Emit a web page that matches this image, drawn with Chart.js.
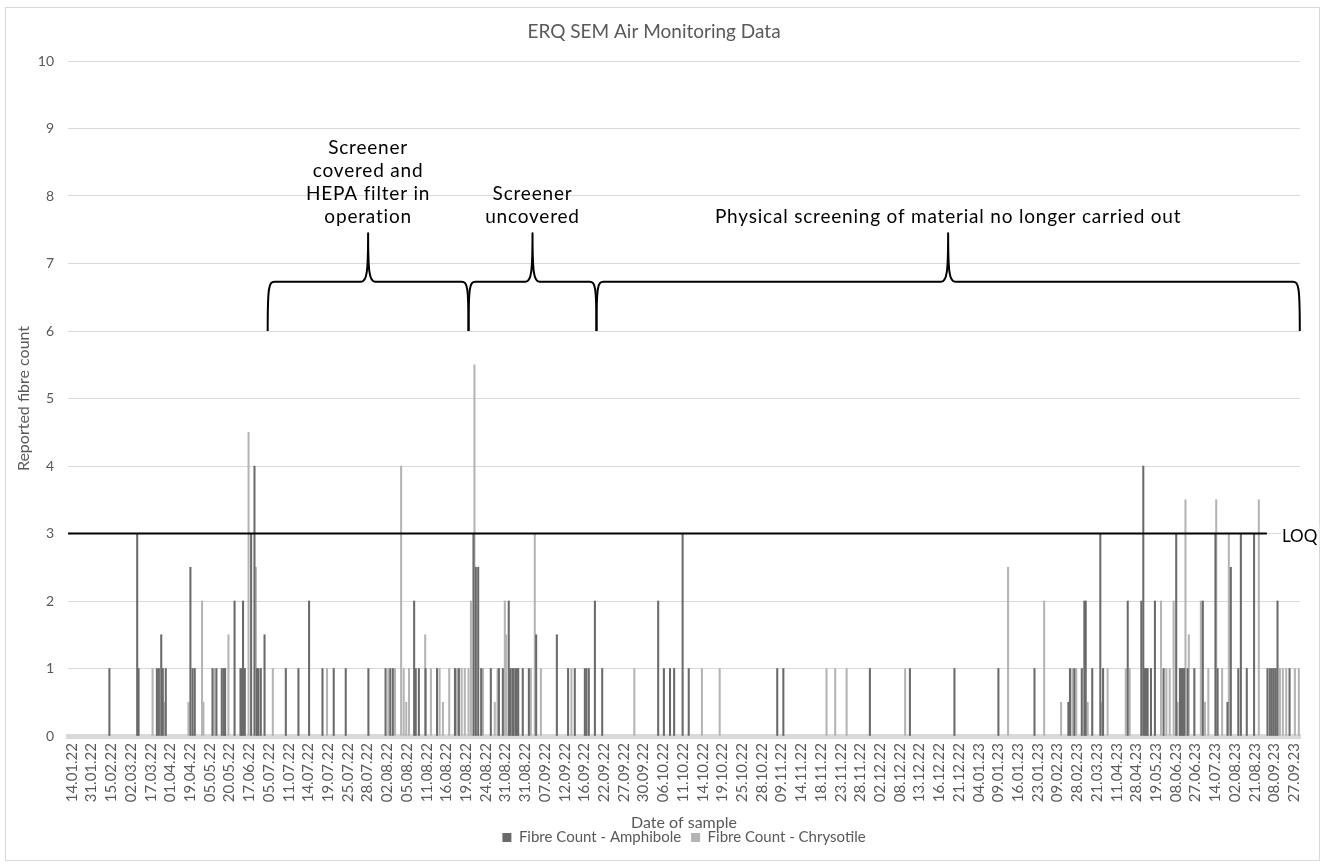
<!DOCTYPE html>
<html><head><meta charset="utf-8">
<script src="https://cdn.jsdelivr.net/npm/chart.js@4.4.1/dist/chart.umd.min.js"></script>
<style>html,body{margin:0;padding:0;background:#fff;}#wrap{position:relative;width:1335px;height:864px;}</style>
</head><body><div id="wrap"><canvas id="c"></canvas></div>
<script>
const tickLabels = ["14.01.22","31.01.22","15.02.22","02.03.22","17.03.22","01.04.22","19.04.22","05.05.22","20.05.22","17.06.22","05.07.22","11.07.22","14.07.22","19.07.22","25.07.22","28.07.22","02.08.22","05.08.22","11.08.22","16.08.22","19.08.22","24.08.22","31.08.22","31.08.22","07.09.22","12.09.22","16.09.22","22.09.22","27.09.22","30.09.22","06.10.22","11.10.22","14.10.22","19.10.22","25.10.22","28.10.22","09.11.22","14.11.22","18.11.22","23.11.22","28.11.22","02.12.22","08.12.22","13.12.22","16.12.22","21.12.22","04.01.23","09.01.23","16.01.23","23.01.23","09.02.23","28.02.23","21.03.23","11.04.23","28.04.23","19.05.23","08.06.23","27.06.23","14.07.23","02.08.23","21.08.23","08.09.23","27.09.23"];

// sample positions along the date axis (in label intervals) and fibre counts
const amphPos = [1.90,3.31,3.38,4.31,4.41,4.53,4.61,4.76,6.01,6.12,6.23,7.13,7.33,7.60,7.70,7.77,8.25,8.55,8.62,8.68,8.77,9.09,9.26,9.39,9.46,9.58,9.77,10.85,11.49,12.03,12.71,13.28,13.89,15.04,15.91,16.15,16.28,17.36,17.44,17.60,17.94,18.52,19.43,19.63,20.37,20.49,20.61,20.76,21.25,21.66,21.86,22.16,22.23,22.34,22.40,22.50,22.57,22.64,22.87,23.18,23.55,24.60,25.17,25.51,26.02,26.10,26.22,26.53,26.90,29.74,30.03,30.34,30.55,30.98,31.29,35.78,36.09,40.48,42.51,44.77,47.00,48.83,50.55,50.63,50.85,51.23,51.36,51.43,51.76,52.17,52.31,53.56,54.25,54.35,54.43,54.50,54.57,54.74,54.94,55.38,56.02,56.21,56.29,56.36,56.43,56.60,56.94,57.37,58.01,58.12,58.62,58.79,59.17,59.30,59.60,59.97,60.65,60.77,60.87,60.97,61.07,61.16,61.77];
const amphCount = [1,3,1,1,1,1.5,1,1,2.5,1,1,1,1,1,1,1,2,1,1,2,1,3,4,1,1,1,1.5,1,1,2,1,1,1,1,1,1,1,2,1,1,1,1,1,1,3,2.5,2.5,1,1,1,1,2,1,1,1,1,1,1,1,1,1.5,1.5,1,1,1,1,1,2,1,2,1,1,1,3,1,1,1,1,1,1,1,1,0.5,1,1,1,2,2,1,3,1,2,2,4,1,1,1,1,2,1,3,1,1,1,1,1,1,2,3,1,0.5,2.5,1,3,1,3,1,1,1,1,1,2,1];

const chrysPos = [4.09,4.70,5.91,6.60,6.67,7.23,7.94,8.96,9.33,10.19,12.94,16.05,16.39,16.70,16.83,16.96,17.10,17.92,18.21,18.65,18.82,19.14,19.53,19.77,19.93,20.12,20.24,20.42,20.85,21.45,21.59,21.96,22.03,23.28,23.48,23.79,25.34,28.53,31.96,32.86,38.28,38.72,39.30,42.27,47.49,49.32,50.18,50.75,50.95,51.53,52.24,52.54,53.46,53.66,55.25,55.52,55.69,55.89,56.09,56.49,56.66,57.27,57.48,57.65,58.05,58.35,58.69,60.21,61.28,61.43,61.60,62.04,62.24];
const chrysCount = [1,0.5,0.5,2,0.5,1,1.5,4.5,2.5,1,1,1,1,4,1,0.5,1,1.5,1,1,0.5,1,1,1,1,1,2,5.5,1,0.5,1,2,1.5,1,3,1,1,1,1,1,1,1,1,1,2.5,2,0.5,1,1,0.5,0.5,1,1,1,2,1,1,2,0.5,3.5,1.5,2,0.5,1,3.5,1,3,3.5,1,1,1,1,1];

const LOQ = 3;
const loqSpan = [-0.2, 60.62];
const periodStart = [9.93, 20.12, 26.61];
const periodEnd = [20.12, 26.61, 62.29];
const periodText = [["Screener","covered and","HEPA filter in","operation"],["Screener","uncovered"],["Physical screening of material no longer carried out"]];
const braceBase = 6, braceBar = 6.73, braceTip = 7.45;

const FONT = 'Lato, "Open Sans", sans-serif';
Chart.defaults.font.family = FONT;
Chart.defaults.animation = false;

function drawBrace(ctx, x0, x1, yb, yh, yt) {
  const xm = (x0 + x1) / 2;
  ctx.beginPath();
  ctx.moveTo(x0, yb);
  ctx.bezierCurveTo(x0, yh + 5, x0 + 1, yh, x0 + 7, yh);
  ctx.lineTo(xm - 7, yh);
  ctx.bezierCurveTo(xm - 1.2, yh, xm, yh - 10, xm, yt);
  ctx.bezierCurveTo(xm, yh - 10, xm + 1.2, yh, xm + 7, yh);
  ctx.lineTo(x1 - 7, yh);
  ctx.bezierCurveTo(x1 - 1, yh, x1, yh + 5, x1, yb);
  ctx.stroke();
}

const decor = {
  id: 'decor',
  beforeDraw(chart) {
    const ctx = chart.ctx;
    ctx.save();
    ctx.strokeStyle = '#d9d9d9';
    ctx.lineWidth = 1;
    ctx.strokeRect(5.5, 7.5, 1314, 853);
    ctx.restore();
  },
  afterLayout(chart) {
    const l = chart.legend;
    const dy = -9, dx = 30;
    l.top += dy; l.bottom += dy; l.left += dx; l.right += dx;
  },
  afterDatasetsDraw(chart) {
    const ctx = chart.ctx, xs = chart.scales.x, ys = chart.scales.y;
    ctx.save();
    ctx.strokeStyle = '#000';
    ctx.lineWidth = 2;
    ctx.lineJoin = 'round';
    const yb = ys.getPixelForValue(braceBase), yh = ys.getPixelForValue(braceBar), yt = ys.getPixelForValue(braceTip);
    periodStart.forEach((s, i) => {
      const x0 = xs.getPixelForValue(s), x1 = xs.getPixelForValue(periodEnd[i]);
      drawBrace(ctx, x0, x1, yb, yh, yt);
      const lines = periodText[i];
      ctx.fillStyle = '#000';
      ctx.font = '19px ' + FONT;
      if ('letterSpacing' in ctx) ctx.letterSpacing = '0.8px';
      ctx.textAlign = 'center';
      ctx.textBaseline = 'middle';
      const xm = (x0 + x1) / 2;
      lines.forEach((t, j) => {
        ctx.fillText(t, xm, yt - 16 - (lines.length - 1 - j) * 23);
      });
    });
    if ('letterSpacing' in ctx) ctx.letterSpacing = '0px';
    // LOQ label
    const ly = ys.getPixelForValue(LOQ);
    ctx.font = '17px ' + FONT;
    ctx.textAlign = 'left';
    ctx.textBaseline = 'middle';
    const tx = xs.getPixelForValue(loqSpan[1]) + 15;
    const w = ctx.measureText('LOQ').width;
    ctx.fillStyle = '#fff';
    ctx.fillRect(tx - 1, ly - 9, w + 3, 19);
    ctx.fillStyle = '#000';
    ctx.fillText('LOQ', tx, ly + 3);
    ctx.restore();
  }
};

new Chart(document.getElementById('c'), {
  type: 'bar',
  data: {
    datasets: [
      {
        label: 'LOQ', type: 'line',
        data: loqSpan.map(x => ({x: x, y: LOQ})),
        borderColor: '#000', borderWidth: 2, pointRadius: 0, order: -1
      },
      {
        label: 'Fibre Count - Amphibole',
        data: amphPos.map((p, i) => ({x: p, y: amphCount[i]})),
        backgroundColor: '#6a6a6a', barThickness: 1.4, grouped: false, borderWidth: 0
      },
      {
        label: 'Fibre Count - Chrysotile',
        data: chrysPos.map((p, i) => ({x: p, y: chrysCount[i]})),
        backgroundColor: '#b4b4b4', barThickness: 1.4, grouped: false, borderWidth: 0
      }
    ]
  },
  options: {
    responsive: true, maintainAspectRatio: false, devicePixelRatio: 1,
    layout: { padding: { left: 8, right: 35, top: 10, bottom: 0 } },
    plugins: {
      tooltip: { enabled: false },
      title: {
        display: true, text: 'ERQ SEM Air Monitoring Data', color: '#595959',
        font: { size: 19, weight: 'normal' }, padding: { top: 10.6, bottom: 17.6 }
      },
      legend: {
        position: 'bottom',
        labels: {
          color: '#595959', font: { size: 15 }, boxWidth: 9, boxHeight: 9, padding: 10,
          filter: item => item.text !== 'LOQ'
        }
      }
    },
    scales: {
      x: {
        type: 'linear', min: -0.2, max: 62.3, offset: false,
        afterBuildTicks: axis => { axis.ticks = tickLabels.map((_, i) => ({ value: i })); },
        afterFit: axis => { axis.height = 93; },
        ticks: {
          autoSkip: false, maxRotation: 90, minRotation: 90, color: '#595959', padding: 7,
          font: { size: 15 },
          callback: v => tickLabels[v] || ''
        },
        grid: { display: false, drawTicks: false },
        border: { display: true, color: '#d9d9d9', width: 5 },
        title: { display: true, text: 'Date of sample', color: '#595959', font: { size: 16 }, padding: { top: 0, bottom: -3 } }
      },
      y: {
        min: 0, max: 10,
        afterFit: axis => { axis.width = 60; },
        ticks: { stepSize: 1, color: '#595959', font: { size: 14 }, padding: 14 },
        grid: { color: '#d9d9d9', drawTicks: false },
        border: { display: false },
        title: { display: true, text: 'Reported fibre count', color: '#595959', font: { size: 16 }, padding: { top: 6, bottom: 0 } }
      }
    }
  },
  plugins: [decor]
});
</script></body></html>
